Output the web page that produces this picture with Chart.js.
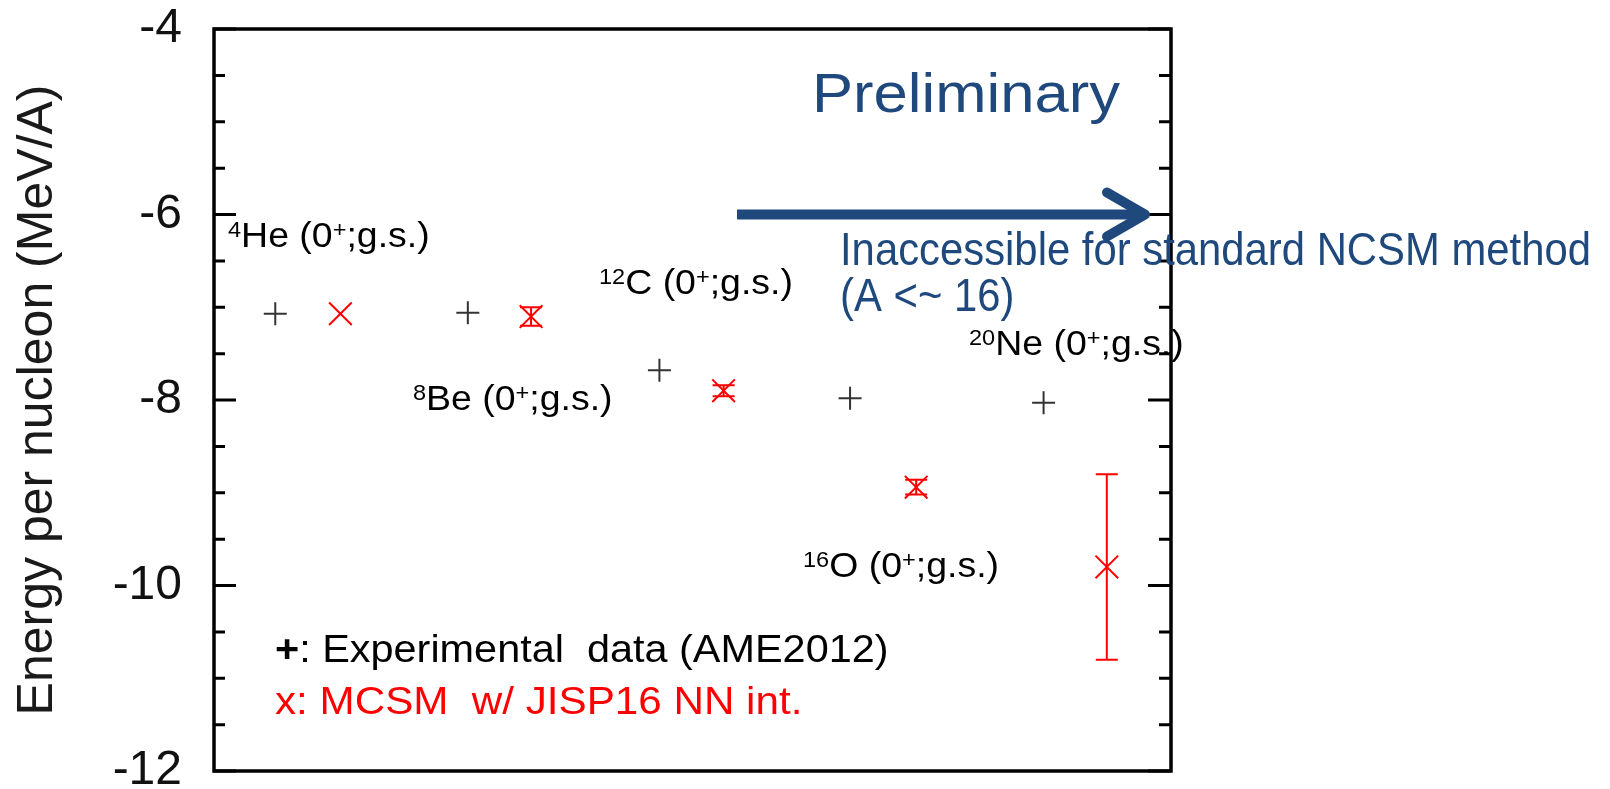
<!DOCTYPE html>
<html>
<head>
<meta charset="utf-8">
<script src="https://cdn.jsdelivr.net/npm/chart.js@4.4.0/dist/chart.umd.min.js"></script>
<style>
  html, body { margin: 0; padding: 0; background: #fff; }
  #wrap { width: 1610px; height: 789px; position: relative; }
</style>
</head>
<body>
<div id="wrap"><canvas id="chart"></canvas></div>
<script>
// nuclei, left to right
const nuclei = ['4He', '8Be', '12C', '16O', '20Ne'];
// x positions on the (hidden) x axis
const expX = [0.65, 2.66, 4.66, 6.65, 8.67];
const mcsmX = [1.33, 3.32, 5.33, 7.34, 9.33];
// energy per nucleon (MeV/A)
const expE = [-7.07, -7.06, -7.68, -7.98, -8.03];
const mcsmE = [-7.07, -7.10, -7.90, -8.94, -9.80];
const mcsmErr = [0, 0.10, 0.06, 0.08, 1.00];
// y axis
const yMin = -12, yMax = -4, yStep = 0.5;
const yLabelEvery = 2;

const FONT = '"Liberation Sans", Arial, sans-serif';
const BLUE = '#1F497D';

// text with superscripts / bold pieces, optional horizontal stretch
function drawRich(ctx, parts, x, y, size, sx, color) {
  ctx.save();
  ctx.translate(x, y);
  ctx.scale(sx, 1);
  ctx.fillStyle = color;
  ctx.textBaseline = 'alphabetic';
  ctx.textAlign = 'left';
  let cx = 0;
  parts.forEach(p => {
    const sup = typeof p === 'object' && p.sup !== undefined;
    const bold = typeof p === 'object' && p.bold !== undefined;
    const t = sup ? p.sup : bold ? p.bold : p;
    ctx.font = (bold ? 'bold ' : '') + (sup ? Math.round(size * 0.64) : size) + 'px ' + FONT;
    ctx.fillText(t, cx, sup ? -size * 0.3 : 0);
    cx += ctx.measureText(t).width;
  });
  ctx.restore();
}

const labels = [
  { parts: [{ sup: '4' }, 'He (0', { sup: '+' }, ';g.s.)'], x: 228, y: 247 },
  { parts: [{ sup: '8' }, 'Be (0', { sup: '+' }, ';g.s.)'], x: 413, y: 410 },
  { parts: [{ sup: '12' }, 'C (0', { sup: '+' }, ';g.s.)'], x: 599, y: 294 },
  { parts: [{ sup: '16' }, 'O (0', { sup: '+' }, ';g.s.)'], x: 803, y: 577 },
  { parts: [{ sup: '20' }, 'Ne (0', { sup: '+' }, ';g.s.)'], x: 969, y: 355 }
];

const errorBars = {
  id: 'errorBars',
  afterDatasetsDraw(chart) {
    const { ctx, scales: { x, y } } = chart;
    ctx.save();
    ctx.strokeStyle = '#ff0000';
    ctx.lineWidth = 2;
    mcsmX.forEach((xv, i) => {
      const err = mcsmErr[i];
      if (!err) return;
      const px = x.getPixelForValue(xv);
      const top = y.getPixelForValue(mcsmE[i] + err);
      const bot = y.getPixelForValue(mcsmE[i] - err);
      ctx.beginPath();
      ctx.moveTo(px, top); ctx.lineTo(px, bot);
      ctx.moveTo(px - 11, top); ctx.lineTo(px + 11, top);
      ctx.moveTo(px - 11, bot); ctx.lineTo(px + 11, bot);
      ctx.stroke();
    });
    ctx.restore();
  }
};

const frameAndText = {
  id: 'frameAndText',
  afterDraw(chart) {
    const { ctx, chartArea: a, scales: { y } } = chart;
    ctx.save();
    // frame
    ctx.strokeStyle = '#000';
    ctx.lineWidth = 3.5;
    ctx.strokeRect(a.left + 1, a.top, a.right - a.left - 1, a.bottom - a.top);
    // inward ticks on both sides
    ctx.lineWidth = 3;
    ctx.beginPath();
    y.ticks.forEach(t => {
      const py = y.getPixelForValue(t.value);
      const len = t.value % yLabelEvery === 0 ? 23 : 12;
      ctx.moveTo(a.left, py); ctx.lineTo(a.left + len, py);
      ctx.moveTo(a.right - len, py); ctx.lineTo(a.right, py);
    });
    ctx.stroke();

    // nucleus labels
    labels.forEach(l => drawRich(ctx, l.parts, l.x, l.y, 35, 1.07, '#000'));

    // legend text
    drawRich(ctx, [{ bold: '+' }, ': Experimental  data (AME2012)'], 275, 662, 38, 1.09, '#000');
    drawRich(ctx, ['x: MCSM  w/ JISP16 NN int.'], 275, 714, 38, 1.11, '#ff0000');

    // preliminary note and arrow
    drawRich(ctx, ['Preliminary'], 812, 112, 56, 1.1, BLUE);
    drawRich(ctx, ['Inaccessible for standard NCSM method'], 840, 265, 47, 0.89, BLUE);
    drawRich(ctx, ['(A <~ 16)'], 840, 311, 47, 0.89, BLUE);

    const ay = y.getPixelForValue(-6);
    ctx.strokeStyle = BLUE;
    ctx.lineWidth = 10;
    ctx.beginPath();
    ctx.moveTo(737, ay); ctx.lineTo(1140, ay);
    ctx.stroke();
    ctx.lineCap = 'round';
    ctx.lineJoin = 'round';
    ctx.beginPath();
    ctx.moveTo(1107, ay - 22); ctx.lineTo(1145, ay); ctx.lineTo(1107, ay + 22);
    ctx.stroke();
    ctx.restore();
  }
};

const ctx = document.getElementById('chart').getContext('2d');
new Chart(ctx, {
  type: 'scatter',
  data: {
    datasets: [
      {
        label: 'Experimental data (AME2012)',
        data: expX.map((x, i) => ({ x, y: expE[i] })),
        pointStyle: 'cross',
        radius: 11.5,
        borderColor: '#333',
        borderWidth: 2,
        clip: false
      },
      {
        label: 'MCSM w/ JISP16 NN int.',
        data: mcsmX.map((x, i) => ({ x, y: mcsmE[i] })),
        pointStyle: 'crossRot',
        radius: 16,
        borderColor: '#ff0000',
        borderWidth: 2,
        clip: false
      }
    ]
  },
  options: {
    responsive: true,
    maintainAspectRatio: false,
    animation: false,
    layout: { padding: { left: 0, right: 439, top: 29, bottom: 18 } },
    plugins: {
      legend: { display: false },
      tooltip: { enabled: false }
    },
    scales: {
      x: { type: 'linear', min: 0, max: 10, display: false },
      y: {
        min: yMin,
        max: yMax,
        afterFit: s => {
          s.width = 213;
          s.paddingTop = 0;
          s.paddingBottom = 0;
        },
        grid: { display: false, drawTicks: false },
        border: { display: false },
        ticks: {
          stepSize: yStep,
          autoSkip: false,
          padding: 31,
          color: '#111',
          font: { size: 48, family: FONT, lineHeight: 0.7 },
          callback: v => (v % yLabelEvery === 0 ? String(v) : '')
        },
        title: {
          display: true,
          text: 'Energy per nucleon (MeV/A)',
          color: '#1a1a1a',
          font: { size: 50, family: FONT },
          padding: { top: 8, bottom: 0 }
        }
      }
    }
  },
  plugins: [errorBars, frameAndText]
});
</script>
</body>
</html>
